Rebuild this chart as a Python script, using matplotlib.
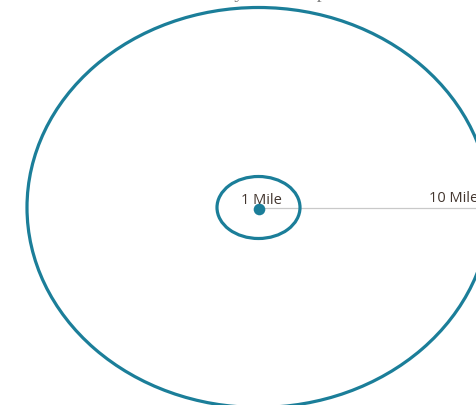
import matplotlib
matplotlib.use("Agg")
import matplotlib.pyplot as plt
from matplotlib.patches import Ellipse

# Data
ring_labels = ["1 Mile", "10 Mile"]
ring_miles = [1, 10]
title_text = "Delivery Area Map"

# display sizes (pixels) of each ring: (half-width, half-height)
ring_display = {1: (41.5, 31.0), 10: (231.5, 200.0)}

W, H = 476, 405
cx, cy = 258.5, 207.5  # centre in image pixels (y down)

fig = plt.figure(figsize=(W / 100, H / 100), dpi=100)
ax = fig.add_axes([0, 0, 1, 1])
ax.set_xlim(-cx, W - cx)
ax.set_ylim(-(H - cy), cy)
ax.axis("off")

ring_color = "#1b7e99"
text_color = "#43362f"

# radius line
ax.plot([0, W], [-0.9, -0.9], color="#c9c9c9", lw=0.9, zorder=1)

for miles, label in zip(ring_miles, ring_labels):
    rx, ry = ring_display[miles]
    ax.add_patch(Ellipse((0, 0), 2 * rx, 2 * ry, fill=False,
                         edgecolor=ring_color, lw=2.3, zorder=2))

ax.scatter([0], [-1.5], s=70, color=ring_color, zorder=3, linewidths=0)

ax.text(2.5, 3.2, ring_labels[0], ha="center", va="baseline",
        fontsize=10.5, color=text_color, family="Open Sans", zorder=4)
ax.text(170.5, 5.5, ring_labels[1], ha="left", va="baseline",
        fontsize=10.5, color=text_color, family="Open Sans", zorder=4)

# clipped title at the top
ax.text(-7, cy + 1.5, title_text, ha="center", va="baseline",
        fontsize=14, color="#7f7f7f", family="Liberation Serif")

fig.savefig("out.png", dpi=100)
